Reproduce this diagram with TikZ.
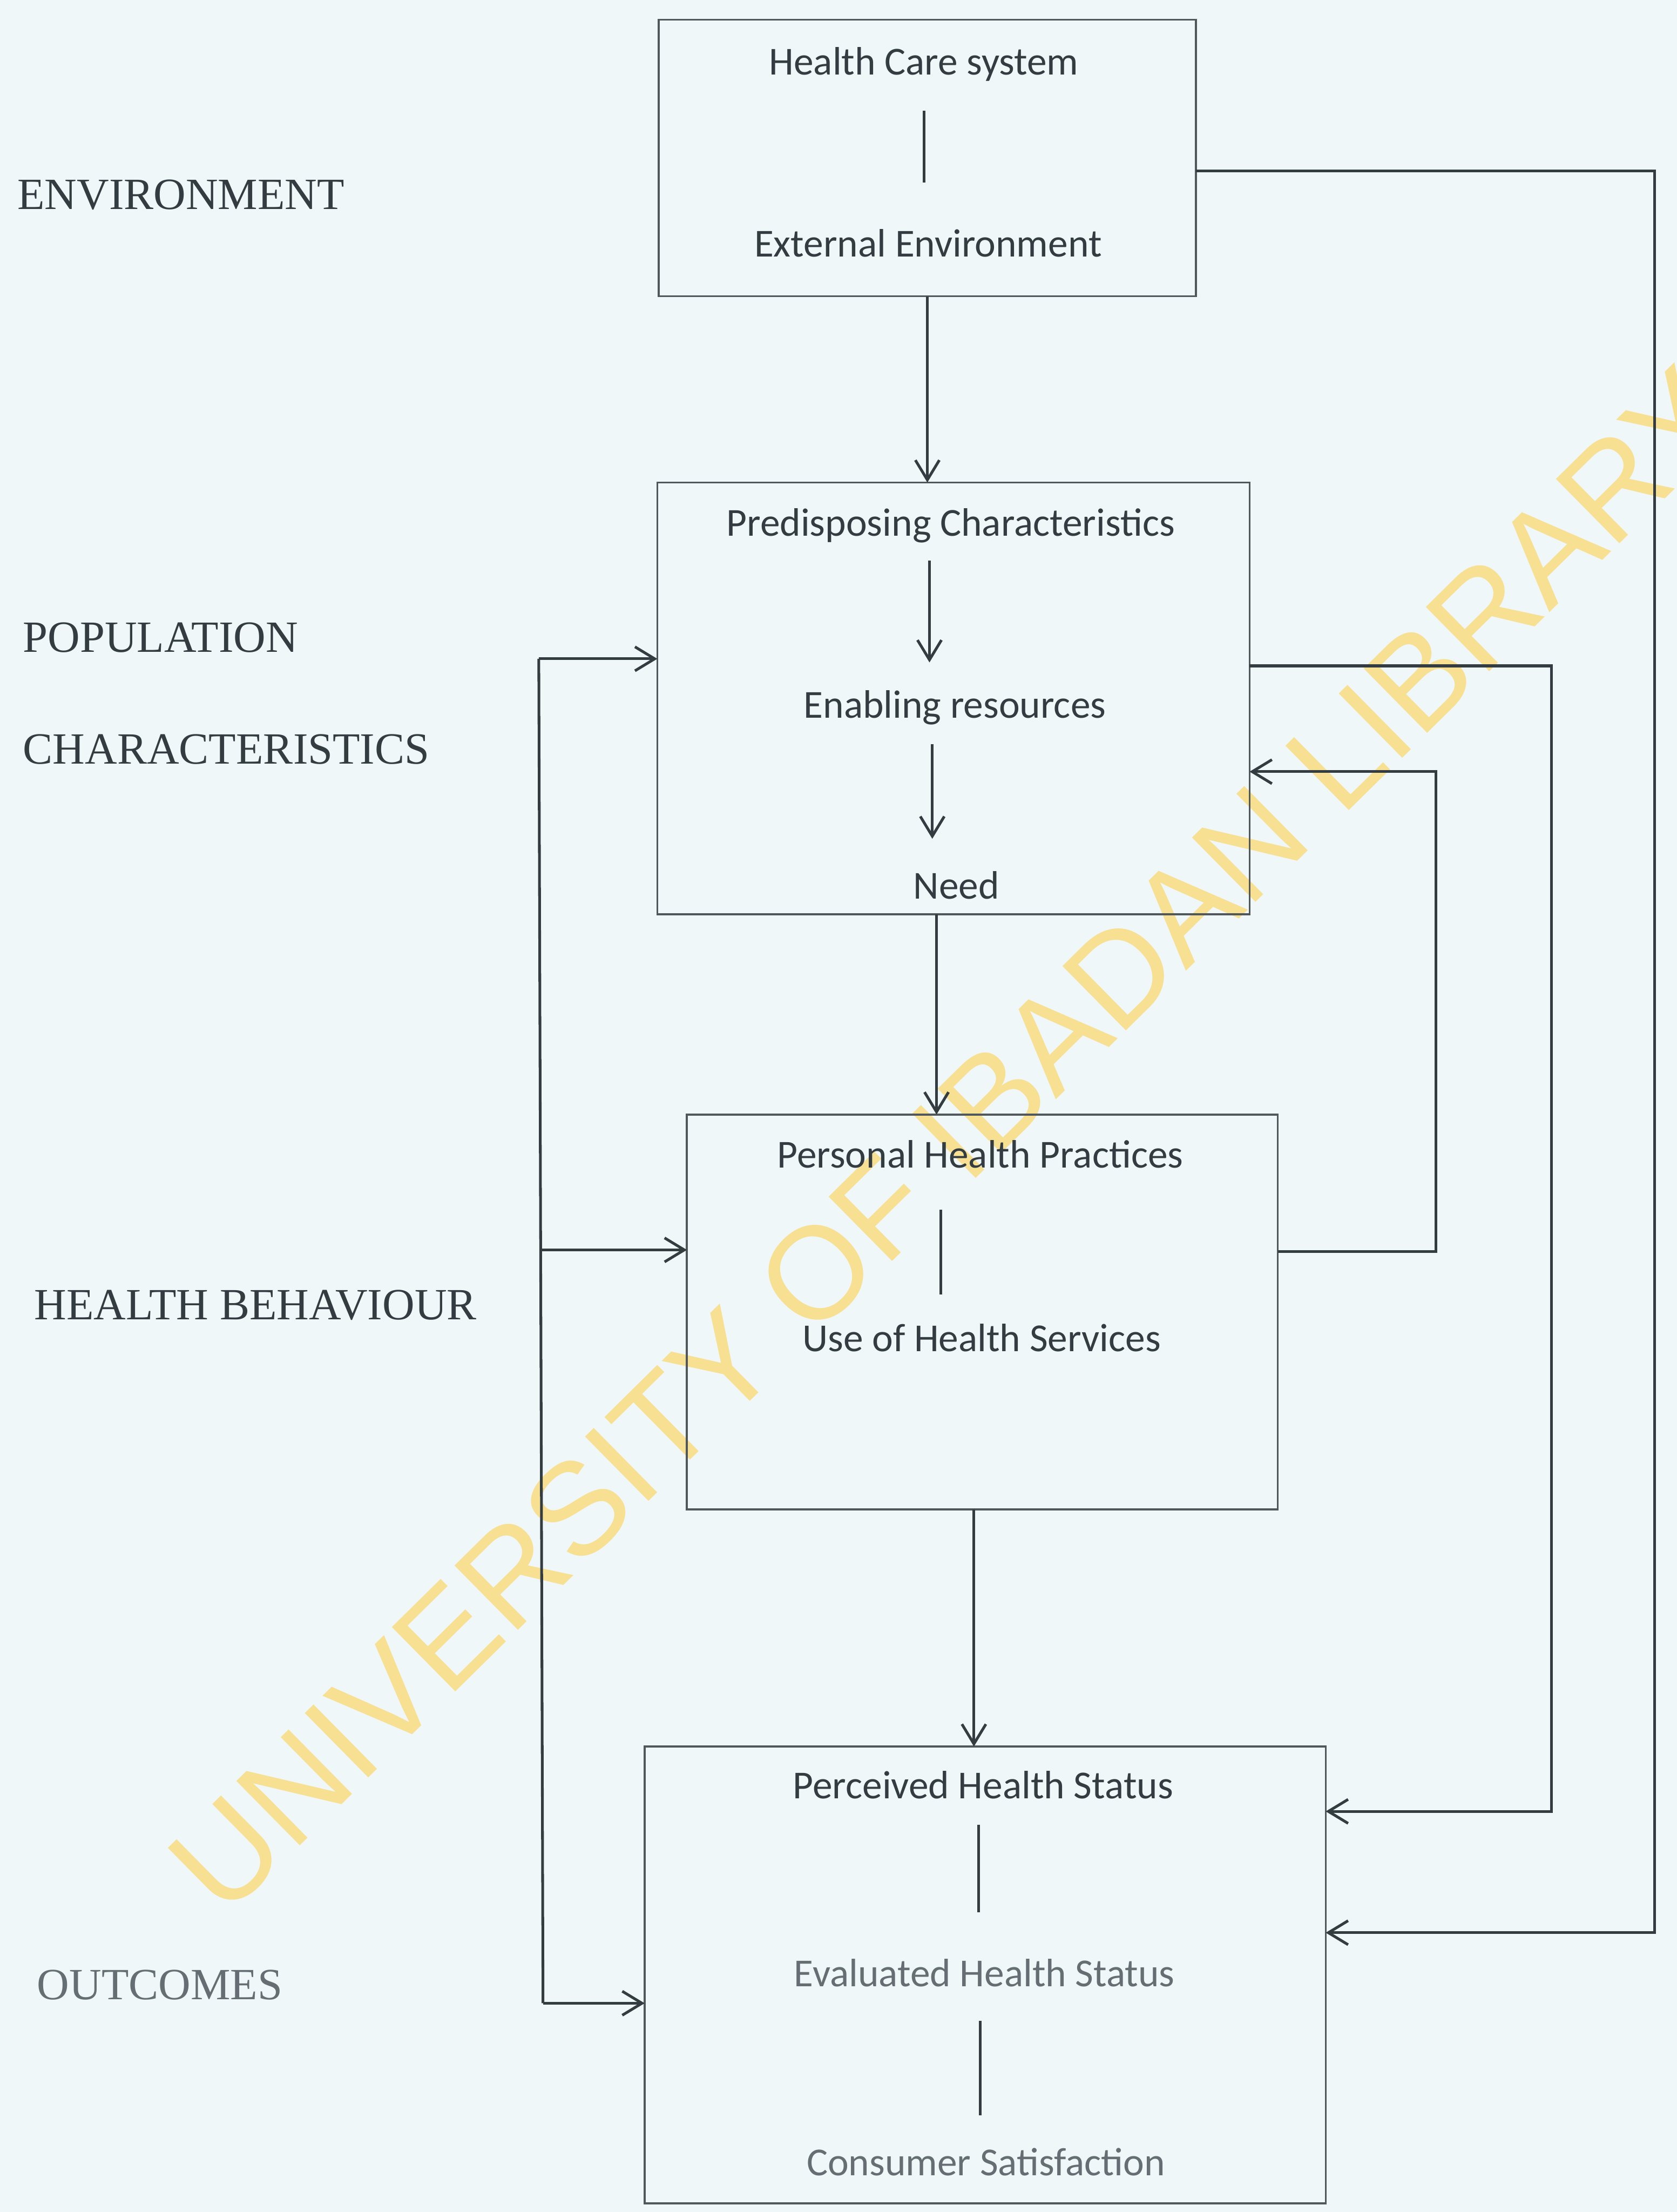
\documentclass[tikz,border=0pt]{standalone}
\usepackage{fontspec}
\setmainfont{Carlito}
\newfontfamily\capsfont{Liberation Serif}
\newfontfamily\stampfont{Liberation Sans}
\usepackage{xcolor}
\usetikzlibrary{arrows.meta, positioning, calc}
\definecolor{paper}{RGB}{239,247,249}
\definecolor{ink}{RGB}{50,60,65}
\definecolor{inklight}{RGB}{100,110,115}
\definecolor{frame}{RGB}{80,88,92}
\definecolor{stamp}{RGB}{248,224,146}

\begin{document}
\begin{tikzpicture}[
    x=0.02cm, y=-0.02cm,
    stage/.style={rectangle, draw=frame, line width=0.8pt, inner sep=0pt, outer sep=0pt},
    item/.style={anchor=base, inner sep=0pt, text height=12pt, text depth=4pt,
                 font=\fontsize{16}{19}\selectfont, text=ink},
    side/.style={anchor=west, inner sep=0pt, font=\capsfont\fontsize{18}{21}\selectfont, text=ink},
    flow/.style={-{Straight Barb[length=0.28cm, width=0.34cm]}, line width=1.1pt, draw=ink},
    link/.style={line width=1.1pt, draw=ink}
]

% page
\fill[paper] (0,0) rectangle (1189,1568);
\useasboundingbox (0,0) rectangle (1189,1568);

% watermark
\node[rotate=44.6, text=stamp, inner sep=0pt, font=\stampfont\fontsize{53}{55}\selectfont] (wm) at (674,808)
      {UNIVERSITY OF IBADAN LIBRARY};

% left labels
\node[side] (lenv) at (12,138) {ENVIRONMENT};
\node[side] (lpop) at (16,452) {POPULATION};
\node[side] (lchar) at (16,531) {CHARACTERISTICS};
\node[side] (lbeh) at (24,925) {HEALTH BEHAVIOUR};
\node[side, text=inklight] (lout) at (26,1407) {OUTCOMES};

% boxes
\node[stage, minimum width=7.62cm, minimum height=3.92cm] (envbox) at (657.5,112) {};
\node[stage, minimum width=8.4cm, minimum height=6.12cm] (popbox) at (676,495) {};
\node[stage, minimum width=8.38cm, minimum height=5.6cm] (behbox) at (696.5,930) {};
\node[stage, minimum width=9.66cm, minimum height=6.48cm] (outbox) at (698.5,1400) {};

% box texts
\node[item] (hcs) at (655,53) {Health Care system};
\node[item] (ext) at (658,182) {External Environment};
\node[item] (pre) at (674,380) {Predisposing Characteristics};
\node[item] (ena) at (677,509) {Enabling resources};
\node[item] (need) at (678,637) {Need};
\node[item] (php) at (695,828) {Personal Health Practices};
\node[item] (uhs) at (696,958) {Use of Health Services};
\node[item] (phs) at (697,1275) {Perceived Health Status};
\node[item, text=inklight] (ehs) at (698,1408) {Evaluated Health Status};
\node[item, text=inklight] (cs) at (699,1542) {Consumer Satisfaction};

% links inside the boxes
\draw[link, shorten <=0.36cm, shorten >=0.62cm] (hcs.south) -- (hcs.south |- ext.north);
\draw[flow, shorten <=0.2cm, shorten >=0.36cm] ([xshift=-0.3cm]pre.south) -- ([xshift=-0.3cm]pre.south |- ena.north);
\draw[flow, shorten <=0.22cm, shorten >=0.42cm] ([xshift=-0.32cm]ena.south) -- ([xshift=-0.32cm]ena.south |- need.north);
\draw[link, shorten <=0.44cm, shorten >=0.38cm] ([xshift=-0.56cm]php.south) -- ([xshift=-0.56cm]php.south |- uhs.north);
\draw[link, shorten <=0.22cm, shorten >=0.62cm] ([xshift=-0.06cm]phs.south) -- ([xshift=-0.06cm]phs.south |- ehs.north);
\draw[link, shorten <=0.34cm, shorten >=0.42cm] ([xshift=-0.06cm]ehs.south) -- ([xshift=-0.06cm]ehs.south |- cs.north);

% main flow between boxes
\draw[flow] (envbox.south) -- (envbox.south |- popbox.north);
\draw[flow] ([xshift=-0.24cm]popbox.south) -- ([xshift=-0.24cm]popbox.south |- behbox.north);
\draw[flow] ([xshift=-0.12cm]behbox.south) -- ([xshift=-0.12cm]behbox.south |- outbox.north);

% left feedback line
\coordinate (lt) at (382,467);
\coordinate (lm) at (383,886);
\coordinate (lb) at (385,1420);
\draw[link] (lt) -- (lb);
\draw[flow] (lt) -- (lt -| popbox.west);
\draw[flow] (lm) -- (lm -| behbox.west);
\draw[flow] (lb) -- (lb -| outbox.west);

% right feedback lines
\coordinate (ra) at (1173,121);
\coordinate (rb) at (1173,1370);
\draw[flow] (ra -| envbox.east) -- (ra) -- (rb) -- (rb -| outbox.east);

\coordinate (rc) at (1100,472);
\coordinate (rd) at (1100,1284);
\draw[flow] (rc -| popbox.east) -- (rc) -- (rd) -- (rd -| outbox.east);

\coordinate (re) at (1018,887);
\coordinate (rf) at (1018,547);
\draw[flow] (re -| behbox.east) -- (re) -- (rf) -- (rf -| popbox.east);

\end{tikzpicture}
\end{document}
